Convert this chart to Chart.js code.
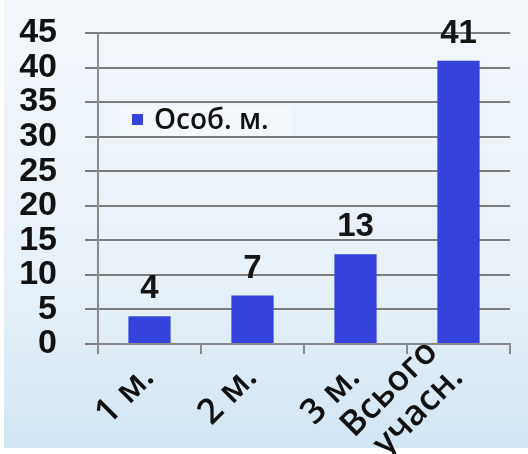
<!DOCTYPE html>
<html>
<head>
<meta charset="utf-8">
<script src="https://cdn.jsdelivr.net/npm/chart.js@4.4.0/dist/chart.umd.min.js"></script>
<style>
  html, body { margin: 0; padding: 0; background: #ffffff; }
  #wrap { width: 528px; height: 454px; }
</style>
</head>
<body>
<div id="wrap"><canvas id="c" width="528" height="454"></canvas></div>
<script>
const categories = ['1 м.', '2 м.', '3 м.', ['Всього', 'учасн.']];
const seriesName = 'Особ. м.';
const seriesValues = [4, 7, 13, 41];
const yTicks = [0, 5, 10, 15, 20, 25, 30, 35, 40, 45];

const bgPlugin = {
  id: 'bg',
  beforeDraw(chart) {
    const ctx = chart.ctx;
    const w = chart.width, h = chart.height;
    ctx.save();
    ctx.fillStyle = '#ffffff';
    ctx.fillRect(0, 0, w, h);
    const g = ctx.createLinearGradient(0, 0, 0, h);
    g.addColorStop(0, '#f2f7fb');
    g.addColorStop(0.6, '#e8f1f8');
    g.addColorStop(1, '#d2e5f3');
    ctx.fillStyle = g;
    ctx.fillRect(4, 0, w - 4, h - 6);
    ctx.restore();
  }
};

const legendPlugin = {
  id: 'customLegend',
  beforeDatasetsDraw(chart) {
    const ctx = chart.ctx;
    ctx.save();
    ctx.fillStyle = 'rgba(255,255,255,0.35)';
    ctx.fillRect(120, 106, 172, 30);
    ctx.fillStyle = '#3343dc';
    ctx.fillRect(132, 114, 11, 11);
    ctx.fillStyle = '#111111';
    ctx.font = '600 28px "Open Sans"';
    ctx.textBaseline = 'middle';
    ctx.textAlign = 'left';
    ctx.fillText(chart.data.datasets[0].label, 154, 121);
    ctx.restore();
  }
};

const valueLabels = {
  id: 'valueLabels',
  afterDatasetsDraw(chart) {
    const ctx = chart.ctx;
    const meta = chart.getDatasetMeta(0);
    ctx.save();
    ctx.fillStyle = '#151515';
    ctx.font = 'bold 33px "Liberation Sans"';
    ctx.textAlign = 'center';
    ctx.textBaseline = 'alphabetic';
    meta.data.forEach((bar, i) => {
      ctx.fillText(String(chart.data.datasets[0].data[i]), bar.x, bar.y - 18);
    });
    ctx.restore();
  }
};

// Category labels on the x axis, rotated 45°, positioned at the x scale's tick pixels.
const xLabels = {
  id: 'xLabels',
  afterDraw(chart) {
    const ctx = chart.ctx;
    const xs = chart.scales.x;
    const axisY = xs.top;
    const lh = 36;
    const k = Math.SQRT1_2;
    ctx.save();
    ctx.fillStyle = '#111111';
    ctx.font = '600 35px "Open Sans"';
    ctx.textAlign = 'right';
    ctx.textBaseline = 'alphabetic';
    chart.data.labels.forEach((lab, i) => {
      const lines = Array.isArray(lab) ? lab : [lab];
      const cx = xs.getPixelForTick(i);
      const n = lines.length;
      lines.forEach((line, j) => {
        const up = (n - 1 - j) * lh;
        const ax = cx + 6 - k * up;
        const ay = axisY + 35 - k * up;
        ctx.save();
        ctx.translate(ax, ay);
        ctx.rotate(-Math.PI / 4);
        ctx.fillText(line, 0, 0);
        ctx.restore();
      });
    });
    ctx.restore();
  }
};

new Chart(document.getElementById('c'), {
  type: 'bar',
  data: {
    labels: categories,
    datasets: [{
      label: seriesName,
      data: seriesValues,
      backgroundColor: '#3343dc',
      borderWidth: 0,
      barPercentage: 0.41,
      categoryPercentage: 1.0
    }]
  },
  options: {
    responsive: false,
    animation: false,
    devicePixelRatio: 1,
    layout: { padding: { left: 0, right: 18, top: 33, bottom: 0 } },
    plugins: {
      legend: { display: false },
      tooltip: { enabled: false },
      title: { display: false }
    },
    scales: {
      x: {
        afterFit(scale) { scale.height = 110; },
        grid: {
          drawOnChartArea: false,
          drawTicks: true,
          tickLength: 10,
          color: '#8a8a8a',
          lineWidth: 2
        },
        border: { color: '#8a8a8a', width: 2 },
        ticks: {
          display: false,
          autoSkip: false
        }
      },
      y: {
        min: 0,
        max: 45,
        afterFit(scale) {
          scale.width = 98;
          scale.paddingTop = 0;
          scale.paddingBottom = 0;
        },
        afterBuildTicks(scale) { scale.ticks = yTicks.map(v => ({ value: v })); },
        grid: {
          color: '#7c7c7c',
          lineWidth: 2,
          tickLength: 13
        },
        border: { color: '#8a8a8a', width: 2 },
        ticks: {
          autoSkip: false,
          color: '#111111',
          font: { family: 'Liberation Sans', size: 34, weight: 'bold', lineHeight: 1.0 },
          padding: 28
        }
      }
    }
  },
  plugins: [bgPlugin, legendPlugin, valueLabels, xLabels]
});
</script>
</body>
</html>
